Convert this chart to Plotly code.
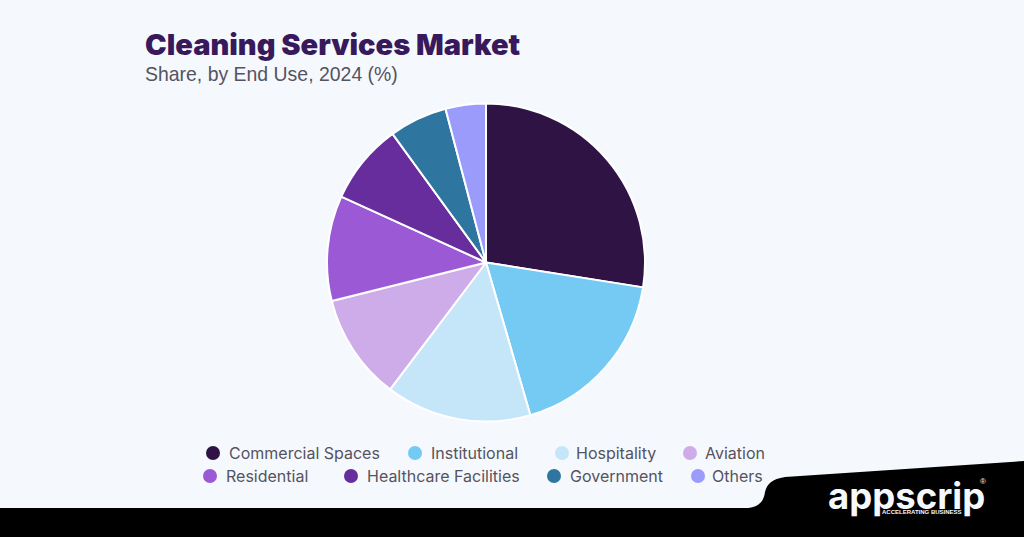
import plotly.graph_objects as go

labels = ["Commercial Spaces", "Institutional", "Hospitality", "Aviation",
          "Residential", "Healthcare Facilities", "Government", "Others"]
shares = [27.5, 18, 14.8, 10.8, 10.7, 8.2, 5.9, 4.1]
colors = ["#2e1344", "#75caf3", "#c4e6f8", "#ceabe9",
          "#9b59d6", "#682d9c", "#2e76a0", "#9a9bfb"]

W, H = 1024, 537
BG = "#f5f9fd"

# legend layout, in pixels: dot x, text x, row y
dot_x = [213, 415, 562, 690, 210, 351, 554, 698]
text_x = [228, 430, 575, 704, 225, 366, 569, 711]
row_y = [453, 453, 453, 453, 476, 476, 476, 476]


def px(x):
    return x / W


def py(y):
    return 1 - y / H


cx, cy, r = 486, 262.5, 159

fig = go.Figure()
fig.add_trace(go.Pie(
    labels=labels, values=shares, sort=False, direction="clockwise", rotation=0,
    marker=dict(colors=colors, line=dict(color="white", width=2)),
    textinfo="none", showlegend=False,
    domain=dict(x=[px(cx - r), px(cx + r)], y=[py(cy + r), py(cy - r)]),
))

shapes = [dict(
    type="path", xref="paper", yref="paper", layer="above", line_width=0, fillcolor="#000000",
    path=(f"M {px(0)} {py(508)} L {px(744)} {py(508)} "
          f"C {px(760)} {py(508)} {px(764)} {py(500)} {px(765)} {py(492)} "
          f"C {px(767)} {py(484)} {px(772)} {py(479)} {px(785)} {py(477)} "
          f"L {px(1024)} {py(461)} L {px(1024)} {py(537)} L {px(0)} {py(537)} Z"),
)]
annotations = []


def add_text(x, y, text, size, color, font="Liberation Sans", weight="normal", anchor="left"):
    annotations.append(dict(
        x=px(x), y=py(y), xref="paper", yref="paper", text=text, showarrow=False,
        xanchor=anchor, yanchor="middle", borderpad=0,
        font=dict(family=font, size=size, color=color, weight=weight),
    ))


for i, name in enumerate(labels):
    shapes.append(dict(
        type="circle", xref="paper", yref="paper", line_width=0, fillcolor=colors[i],
        x0=px(dot_x[i] - 7), x1=px(dot_x[i] + 7),
        y0=py(row_y[i] + 7), y1=py(row_y[i] - 7),
    ))
    add_text(text_x[i], row_y[i], name, 16, "#55535f", font="Inter")

add_text(144, 44, "Cleaning Services Market", 29, "#38195c", font="Inter", weight=900)
add_text(144, 74, "Share, by End Use, 2024 (%)", 19.45, "#55535f", font="Liberation Sans")
add_text(827, 496, "appscrip", 36.5, "#f5f9fd", font="Inter", weight=700)
add_text(881, 512, "ACCELERATING BUSINESS", 6, "#f5f9fd", font="Liberation Sans", weight=700)
add_text(979, 481, "®", 8, "#f5f9fd")

fig.update_layout(
    width=W, height=H, margin=dict(l=0, r=0, t=0, b=0),
    paper_bgcolor=BG, plot_bgcolor=BG, showlegend=False,
    shapes=shapes, annotations=annotations,
)

fig.write_html("out.html", config=dict(displayModeBar=False),
               post_script="document.body.style.margin='0';")
